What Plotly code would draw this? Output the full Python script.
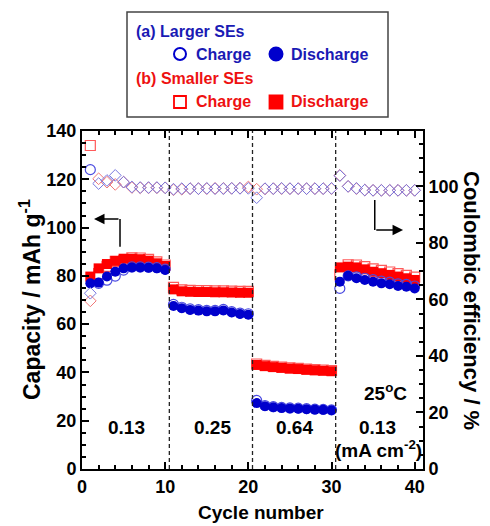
import plotly.graph_objects as go

# ---------------- data ----------------
cycles = list(range(1, 41))

larger_charge = [124.0, 76.9, 78.2, 79.9, 82.4, 83.7, 83.7, 83.6, 83.4, 82.8,
                 68.2, 67.0, 66.3, 66.0, 65.7, 65.7, 66.1, 65.2, 64.6, 64.3,
                 28.4, 26.3, 25.8, 25.5, 25.3, 25.2, 25.0, 24.8, 24.7, 24.5,
                 74.8, 80.0, 79.6, 79.0, 78.4, 77.8, 77.4, 76.7, 76.5, 75.8]
larger_discharge = [76.9, 77.2, 79.7, 81.7, 83.1, 83.5, 83.5, 83.4, 83.1, 82.4,
                    67.5, 66.6, 65.9, 65.6, 65.3, 65.3, 65.7, 64.8, 64.2, 63.9,
                    27.3, 26.0, 25.6, 25.3, 25.1, 25.0, 24.8, 24.6, 24.5, 24.3,
                    77.6, 80.0, 79.0, 78.3, 77.6, 76.9, 76.5, 75.8, 75.5, 74.8]
smaller_charge = [134.0, 80.9, 83.9, 86.0, 86.2, 87.5, 87.4, 86.8, 85.8, 84.5,
                  75.2, 74.2, 74.0, 73.9, 73.9, 73.8, 73.8, 73.7, 73.6, 73.6,
                  43.5, 42.9, 42.5, 42.2, 41.9, 41.7, 41.4, 41.2, 41.0, 40.8,
                  80.4, 84.6, 84.5, 83.8, 82.9, 82.3, 81.6, 80.9, 80.2, 79.5]
smaller_discharge = [79.7, 83.1, 84.9, 86.2, 87.1, 87.1, 86.9, 86.3, 85.2, 84.1,
                     74.4, 73.6, 73.4, 73.3, 73.3, 73.2, 73.2, 73.1, 73.0, 73.0,
                     43.1, 42.6, 42.2, 41.9, 41.6, 41.4, 41.1, 40.9, 40.7, 40.5,
                     83.5, 83.8, 83.5, 82.7, 81.7, 81.1, 80.4, 79.7, 79.0, 78.3]
larger_ce = [62.2, 101.0, 102.1, 103.9, 101.5, 99.8, 99.6, 99.6, 99.6, 99.5,
             99.0, 99.2, 99.2, 99.2, 99.3, 99.2, 99.2, 99.3, 99.3, 99.3,
             96.0, 99.2, 99.2, 99.3, 99.2, 99.2, 99.2, 99.2, 99.2, 99.3,
             103.8, 100.0, 99.3, 98.7, 98.6, 98.6, 98.6, 98.6, 98.6, 98.6]
smaller_ce = [59.5, 102.7, 101.5, 100.7, 101.5, 99.6, 99.5, 99.5, 99.5, 99.5,
              98.8, 99.0, 99.2, 99.2, 99.2, 99.3, 99.3, 99.3, 99.4, 99.8,
              99.0, 99.1, 99.2, 99.2, 99.2, 99.2, 99.2, 99.2, 99.2, 99.2,
              103.9, 100.0, 99.2, 98.7, 98.6, 98.6, 98.6, 98.6, 98.6, 98.6]

rate_labels = ["0.13", "0.25", "0.64", "0.13"]
rate_label_x = [5.3, 15.75, 25.5, 35.5]
boundaries = [10.5, 20.5, 30.5]

# ---------------- styling ----------------
W, H = 490, 526
L, R, T, B = 82, 423, 131, 469
FR = "Liberation Sans, Arial, sans-serif"
BLUE = "#0000cc"
BLUE_TXT = "#1a1ab4"
RED = "#ff0000"
RED_TXT = "#ee1111"


def px_x(px):
    return (px - L) / (R - L)


def px_y(py):
    return (B - py) / (B - T)


def bfont(size, color="black"):
    return dict(family=FR, size=size, color=color, weight="bold")


fig = go.Figure()
fig.add_trace(go.Scatter(x=cycles, y=smaller_charge, mode="markers",
                         marker=dict(symbol="square-open", size=10, color="#ff5a5a",
                                     line=dict(width=1.2))))
fig.add_trace(go.Scatter(x=cycles, y=smaller_discharge, mode="markers",
                         marker=dict(symbol="square", size=10, color=RED,
                                     line=dict(width=0))))
fig.add_trace(go.Scatter(x=cycles, y=larger_charge, mode="markers",
                         marker=dict(symbol="circle-open", size=10, color="#4a4ae0",
                                     line=dict(width=1.2))))
fig.add_trace(go.Scatter(x=cycles, y=larger_discharge, mode="markers",
                         marker=dict(symbol="circle", size=10, color=BLUE,
                                     line=dict(width=0))))
fig.add_trace(go.Scatter(x=cycles, y=smaller_ce, mode="markers", yaxis="y2",
                         marker=dict(symbol="diamond-open", size=9, color="#f07878",
                                     line=dict(width=1))))
fig.add_trace(go.Scatter(x=cycles, y=larger_ce, mode="markers", yaxis="y2",
                         marker=dict(symbol="diamond-open", size=9, color="#7878e0",
                                     line=dict(width=1))))

shapes = []
for bx in boundaries:
    shapes.append(dict(type="line", xref="x", yref="y", x0=bx, x1=bx, y0=0, y1=140,
                       line=dict(color="#222222", width=1.3, dash="4px,3px")))
# arrow stems
shapes.append(dict(type="line", xref="x", yref="y", x0=4.57, x1=4.57, y0=92.1, y1=103.6,
                   line=dict(color="black", width=1.5)))
shapes.append(dict(type="line", xref="x", yref="y", x0=35.2, x1=35.2, y0=111.4, y1=99.0,
                   line=dict(color="black", width=1.5)))
# legend box
shapes.append(dict(type="rect", xref="paper", yref="paper",
                   x0=px_x(127), x1=px_x(388), y0=px_y(117), y1=px_y(12),
                   line=dict(color="#444444", width=1.5), fillcolor="white"))


def circ(cx, cy, r, filled, color):
    return dict(type="circle", xref="paper", yref="paper",
                x0=px_x(cx - r), x1=px_x(cx + r), y0=px_y(cy + r), y1=px_y(cy - r),
                line=dict(color=color, width=2),
                fillcolor=color if filled else "rgba(0,0,0,0)")


def sq(cx, cy, r, filled, color):
    return dict(type="rect", xref="paper", yref="paper",
                x0=px_x(cx - r), x1=px_x(cx + r), y0=px_y(cy + r), y1=px_y(cy - r),
                line=dict(color=color, width=1.8),
                fillcolor=color if filled else "rgba(0,0,0,0)")


shapes += [circ(180, 54, 6, False, BLUE), circ(276, 54, 6.5, True, BLUE),
           sq(180, 102, 6, False, RED), sq(276, 102, 6.5, True, RED)]

ann = []
for lab, lx in zip(rate_labels, rate_label_x):
    ann.append(dict(x=lx, y=17.0, xref="x", yref="y", text=lab, showarrow=False,
                    xanchor="center", yanchor="middle", font=bfont(19)))
ann.append(dict(x=35.6, y=8.3, xref="x", yref="y", text="(mA cm<sup>-2</sup>)",
                showarrow=False, xanchor="center", yanchor="middle", font=bfont(19)))
ann.append(dict(x=36.55, y=31.7, xref="x", yref="y", text="25<sup>o</sup>C",
                showarrow=False, xanchor="center", yanchor="middle", font=bfont(19)))
# arrows
ann.append(dict(x=1.44, y=103.6, ax=4.57, ay=103.6, xref="x", yref="y", axref="x", ayref="y",
                text="", showarrow=True, arrowhead=2, arrowsize=1.4, arrowwidth=1.5,
                arrowcolor="black", standoff=0))
ann.append(dict(x=38.6, y=99.0, ax=35.2, ay=99.0, xref="x", yref="y", axref="x", ayref="y",
                text="", showarrow=True, arrowhead=2, arrowsize=1.4, arrowwidth=1.5,
                arrowcolor="black", standoff=0))


def ltxt(px, py, text, color):
    return dict(x=px_x(px), y=px_y(py), xref="paper", yref="paper", xanchor="left",
                yanchor="middle", text=text, showarrow=False, font=bfont(16, color))


ann += [ltxt(134, 31, "(a) Larger SEs", BLUE_TXT), ltxt(194, 54, "Charge", BLUE_TXT),
        ltxt(289, 54, "Discharge", BLUE_TXT), ltxt(134, 78, "(b) Smaller SEs", RED_TXT),
        ltxt(194, 102, "Charge", RED_TXT), ltxt(289, 102, "Discharge", RED_TXT)]
# axis titles
ann.append(dict(x=px_x(261), y=px_y(512), xref="paper", yref="paper", text="Cycle number",
                xanchor="center", yanchor="middle", showarrow=False, font=bfont(19)))
ann.append(dict(x=px_x(30), y=px_y(300), xref="paper", yref="paper", textangle=-90,
                xanchor="center", yanchor="middle",
                text="Capacity / mAh g<sup>-1</sup>", showarrow=False, font=bfont(23)))
ann.append(dict(x=px_x(472), y=px_y(300), xref="paper", yref="paper", textangle=90,
                xanchor="center", yanchor="middle",
                text="Coulombic efficiency / %", showarrow=False, font=bfont(22)))

tickfont = bfont(18)
fig.update_layout(
    width=W, height=H, margin=dict(l=L, r=W - R, t=T, b=H - B),
    paper_bgcolor="white", plot_bgcolor="white", showlegend=False,
    xaxis=dict(range=[0, 41], dtick=10, tick0=0, showgrid=False, zeroline=False,
               showline=True, linecolor="black", linewidth=2, mirror="ticks",
               ticks="inside", ticklen=7, tickwidth=1.5, tickcolor="black",
               tickfont=tickfont, automargin=False,
               minor=dict(dtick=2, ticks="inside", ticklen=4, tickwidth=1.5,
                          tickcolor="black", showgrid=False)),
    yaxis=dict(range=[0, 140], dtick=20, tick0=0, showgrid=False, zeroline=False,
               showline=True, linecolor="black", linewidth=2, automargin=False,
               ticks="inside", ticklen=7, tickwidth=1.5, tickcolor="black",
               tickfont=tickfont,
               minor=dict(dtick=5, ticks="inside", ticklen=4, tickwidth=1.5,
                          tickcolor="black", showgrid=False)),
    yaxis2=dict(range=[0, 119.6], dtick=20, tick0=0, overlaying="y", side="right",
                showgrid=False, zeroline=False, showline=True, linecolor="black",
                linewidth=2, ticks="inside", ticklen=7, tickwidth=1.5, automargin=False,
                tickcolor="black", tickfont=tickfont,
                minor=dict(dtick=5, ticks="inside", ticklen=4, tickwidth=1.5,
                           tickcolor="black", showgrid=False)),
    shapes=shapes, annotations=ann,
)

fig.write_html("out.html")
